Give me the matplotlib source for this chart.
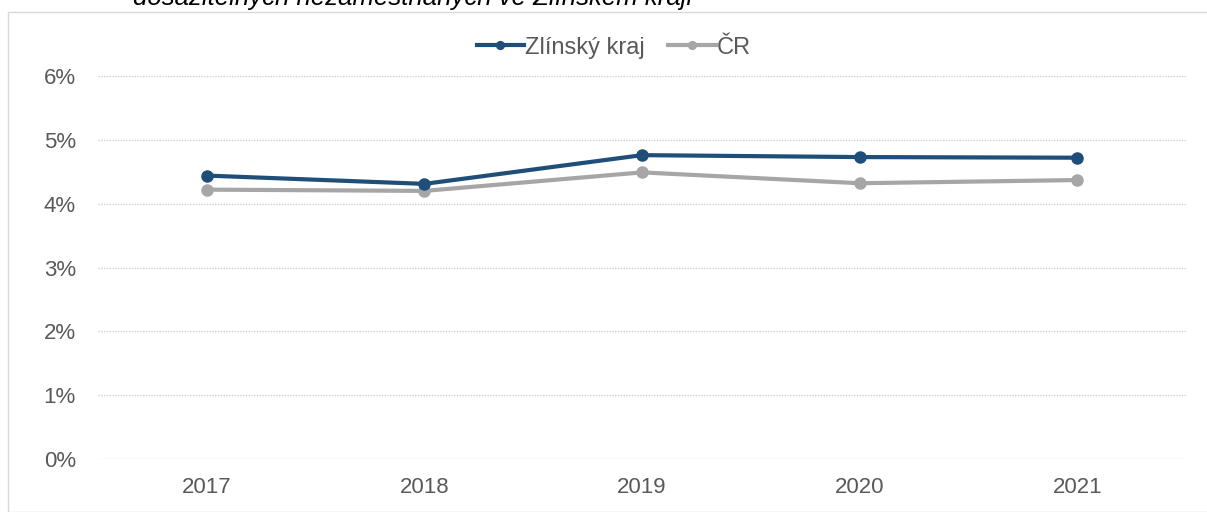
import matplotlib.pyplot as plt
from matplotlib.patches import Rectangle
from matplotlib.ticker import FuncFormatter

plt.rcParams['font.family'] = ['Liberation Sans', 'DejaVu Sans']

# data
years = ['2017', '2018', '2019', '2020', '2021']
zlin = [4.44, 4.31, 4.76, 4.73, 4.72]
cr = [4.22, 4.20, 4.49, 4.32, 4.37]

fig = plt.figure(figsize=(12.07, 5.12), dpi=100)
ax = fig.add_axes([98 / 1207, 1 - 459 / 512, (1186 - 98) / 1207, (459 - 76) / 512])

# ramecek grafu
fig.patches.append(Rectangle((8 / 1207, 0), 1.2, 1 - 12 / 512, transform=fig.transFigure,
                             fill=False, edgecolor='#d9d9d9', linewidth=1))

x = range(len(years))
ax.plot(x, zlin, '-o', color='#1f4e79', linewidth=3, markersize=8, label='Zlínský kraj', zorder=3)
ax.plot(x, cr, '-o', color='#a6a6a6', linewidth=3, markersize=8, label='ČR', zorder=2)

ax.set_xlim(-0.5, len(years) - 0.5)
ax.set_ylim(0, 6)
ax.set_yticks(range(0, 7))
ax.yaxis.set_major_formatter(FuncFormatter(lambda v, p: f'{v:.0f}%'))
ax.set_xticks(list(x))
ax.set_xticklabels(years)
ax.tick_params(length=0, labelsize=16, colors='#595959')
ax.tick_params(axis='y', pad=16)
ax.tick_params(axis='x', pad=13)
ax.grid(axis='y', color='#d0d0d0', linestyle=(0, (1, 1)), linewidth=1)
ax.set_axisbelow(True)
for s in ax.spines.values():
    s.set_visible(False)

leg = ax.legend(loc='lower center', bbox_to_anchor=(0.474, 0.99), ncol=2, frameon=False,
                fontsize=17, labelcolor='#595959', handlelength=2.0, handletextpad=0.05,
                columnspacing=1.0, markerscale=0.7)

# nadpis je v originale orizly nahore
fig.text(133 / 1207, 1 - 5 / 512, 'dosažitelných nezaměstnaných ve Zlínském kraji',
         fontsize=18.5, style='italic', color='#000000', va='baseline', ha='left')

fig.savefig('out.png', dpi=100)
